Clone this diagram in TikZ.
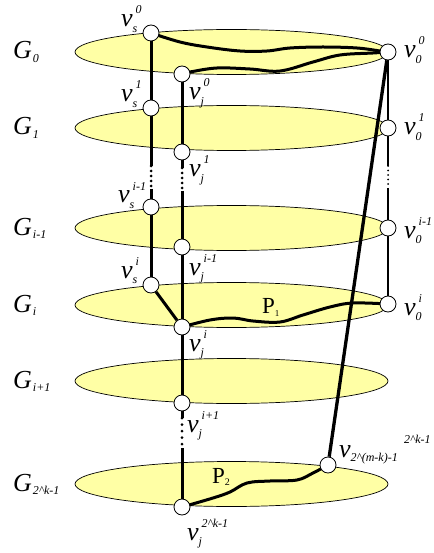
\documentclass[tikz,border=0pt]{standalone}
\usepackage{fontspec}
\setmainfont{Liberation Serif}
\usetikzlibrary{positioning}

\definecolor{discyellow}{RGB}{255,255,165}
\pgfdeclarelayer{discs}
\pgfdeclarelayer{edges}
\pgfsetlayers{discs,edges,main}

\newcommand{\subsz}{\fontsize{12}{12}\selectfont}
\newcommand{\vlab}[2]{\textit{v}\rlap{\raisebox{-5.5pt}{\subsz\textit{#1}}}\kern3pt\raisebox{13pt}{\subsz\textit{#2}}}
\newcommand{\glab}[1]{\textit{G}\kern1pt\raisebox{-3.5pt}{\subsz\textit{#1}}}

\begin{document}
\begin{tikzpicture}[
        x=1pt, y=-1pt,
        vert/.style={
            circle,
            draw,
            fill=white,
            line width=0.8pt,
            inner sep=0pt,
            minimum size=16pt
        },
        lab/.style={
            inner sep=0pt,
            anchor=base west,
            font=\fontsize{26}{26}\selectfont
        },
        gdisc/.style={
            draw,
            line width=0.7pt,
            fill=discyellow
        },
        col/.style={line width=3pt},
        thincol/.style={line width=2pt},
        dots/.style={line cap=round, dash pattern=on 0pt off 5pt},
        route/.style={line width=3pt, line join=round}
    ]

    \useasboundingbox (0,0) rectangle (433,553);

    % vertices
    \node[vert] (vs0) at (151,33) {};
    \node[vert] (vs1) at (151,108) {};
    \node[vert] (vsa) at (151,207) {};
    \node[vert] (vsi) at (151,285) {};

    \node[vert] (vj0) at (182,74) {};
    \node[vert] (vj1) at (182,152) {};
    \node[vert] (vja) at (182,247) {};
    \node[vert] (vji) at (182,327) {};
    \node[vert] (vjb) at (182,403) {};
    \node[vert] (vjk) at (182,507) {};

    \node[vert] (v00) at (388,52) {};
    \node[vert] (v01) at (388,128) {};
    \node[vert] (v0a) at (388,228) {};
    \node[vert] (v0i) at (388,304) {};
    \node[vert] (vm) at (328,465) {};

    % ends of the dotted gaps
    \coordinate (sgap1) at (151,166);
    \coordinate (sgap2) at (151,189);
    \coordinate (jgap1) at (182,168);
    \coordinate (jgap2) at (182,191);
    \coordinate (jgap3) at (182,418);
    \coordinate (jgap4) at (182,448);
    \coordinate (ogap1) at (388,166);
    \coordinate (ogap2) at (388,188);

    % layers G
    \begin{pgfonlayer}{discs}
    \foreach \cy/\g [count=\n] in {52/0, 128/1, 228/i-1, 305/i, 381/i+1, 484/{2\textasciicircum k-1}} {
        \draw[gdisc] (231.5,\cy) ellipse [x radius=156.5, y radius=22.5];
        \node[lab] (G\n) at (13,\cy+7) {\glab{\g}};
    }
    \end{pgfonlayer}

    \begin{pgfonlayer}{edges}
    % column s
    \draw[col] (vs0) -- (vs1);
    \draw[col] (vs1) -- (sgap1);
    \draw[col, dots] (sgap1) -- (sgap2);
    \draw[col] (sgap2) -- (vsa);
    \draw[col] (vsa) -- (vsi);
    \draw[col] (vsi) -- (vji);

    % column j
    \draw[col] (vj0) -- (vj1);
    \draw[col] (vj1) -- (jgap1);
    \draw[col, dots] (jgap1) -- (jgap2);
    \draw[col] (jgap2) -- (vja);
    \draw[col] (vja) -- (vji);
    \draw[col] (vji) -- (vjb);
    \draw[col] (vjb) -- (jgap3);
    \draw[col, dots, dash pattern=on 0pt off 6.5pt] (jgap3) -- (jgap4);
    \draw[col] (jgap4) -- (vjk);

    % column 0
    \draw[thincol] (v00) -- (v01);
    \draw[thincol] (v01) -- (ogap1);
    \draw[thincol, dots, dash pattern=on 0pt off 4.5pt] (ogap1) -- (ogap2);
    \draw[thincol] (ogap2) -- (v0a);
    \draw[thincol] (v0a) -- (v0i);

    \draw[line width=3.3pt] (v00) -- (vm);

    % routes
    \draw[route] plot[smooth, tension=0.6] coordinates {(vs0) (180,42) (207,47) (240,51) (267,51) (290,48) (323,47) (357,48) (380,51) (v00)};
    \draw[route] plot[smooth, tension=0.6] coordinates {(vj0) (190,72) (217,68) (250,69) (280,71) (313,62) (340,55) (373,53) (v00)};
    \draw[route] plot[smooth, tension=0.6] coordinates {(vji) (210,320) (233,318) (253,321) (280,322) (303,315) (330,307) (353,303) (v0i)};
    \draw[route] plot[smooth, tension=0.6] coordinates {(vjk) (213,498) (230,492) (247,483) (270,481) (297,480) (313,473) (vm)};
    \end{pgfonlayer}

    % labels
    \node[lab] (lvs0) at (121,27) {\vlab{s}{0}};
    \node[lab] (lvs1) at (121,102) {\vlab{s}{1}};
    \node[lab] (lvsa) at (118,203) {\vlab{s}{i-1}};
    \node[lab] (lvsi) at (121,278) {\vlab{s}{i}};

    \node[lab] (lvj0) at (189,100) {\vlab{j}{0}};
    \node[lab] (lvj1) at (189,177) {\vlab{j}{1}};
    \node[lab] (lvja) at (189,275) {\vlab{j}{i-1}};
    \node[lab] (lvji) at (189,351) {\vlab{j}{i}};
    \node[lab] (lvjb) at (187,432) {\vlab{j}{i+1}};
    \node[lab] (lvjk) at (187,540) {\vlab{j}{2\textasciicircum k-1}};

    \node[lab] (lv00) at (404,58) {\vlab{0}{0}};
    \node[lab] (lv01) at (404,135) {\vlab{0}{1}};
    \node[lab] (lv0a) at (404,238) {\vlab{0}{i-1}};
    \node[lab] (lv0i) at (404,315) {\vlab{0}{i}};

    \node[lab] (lvm) at (339,457) {\textit{v}\raisebox{-4pt}{\subsz\textit{2\textasciicircum(m-k)-1}}};
    \node[lab] (lvmsup) at (404,443) {\subsz\textit{2\textasciicircum k-1}};

    \node[lab, font=\fontsize{23}{23}\selectfont] (p1) at (262,313) {P\raisebox{-3pt}{\fontsize{9}{9}\selectfont 1}};
    \node[lab, font=\fontsize{23}{23}\selectfont] (p2) at (212,483) {P\raisebox{-2pt}{\fontsize{10}{10}\selectfont 2}};

\end{tikzpicture}
\end{document}
